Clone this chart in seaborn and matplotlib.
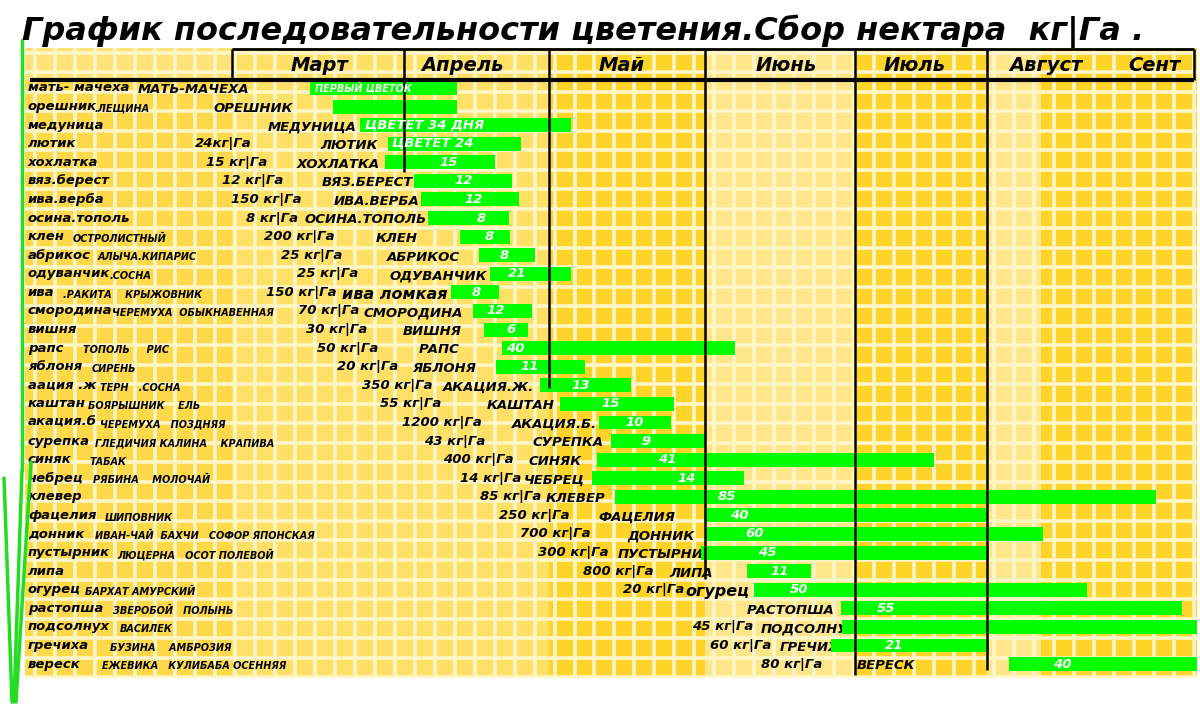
import numpy as np
import pandas as pd
import matplotlib
matplotlib.use('Agg')
import matplotlib.pyplot as plt
from matplotlib.lines import Line2D
import seaborn as sns

# x axis: days counted from 1 March, y: row index
plants = ['мать- мачеха', 'орешник', 'медуница', 'лютик', 'хохлатка', 'вяз.берест',
          'ива.верба', 'осина.тополь', 'клен', 'абрикос', 'одуванчик', 'ива',
          'смородина', 'вишня', 'рапс', 'яблоня', 'аация .ж', 'каштан', 'акация.б',
          'сурепка', 'синяк', 'чебрец', 'клевер', 'фацелия', 'донник', 'пустырник',
          'липа', 'огурец', 'растопша', 'подсолнух', 'гречиха', 'вереск']
also_flowering = ['', '.ЛЕЩИНА', '', '', '', '', '', '', 'ОСТРОЛИСТНЫЙ', 'АЛЫЧА.КИПАРИС',
                  '.СОСНА', '.РАКИТА    КРЫЖОВНИК', 'ЧЕРЕМУХА  ОБЫКНАВЕННАЯ', '',
                  'ТОПОЛЬ     РИС', 'СИРЕНЬ', 'ТЕРН   .СОСНА', 'БОЯРЫШНИК    ЕЛЬ',
                  'ЧЕРЕМУХА   ПОЗДНЯЯ', 'ГЛЕДИЧИЯ КАЛИНА    КРАПИВА', 'ТАБАК',
                  'РЯБИНА    МОЛОЧАЙ', '', 'ШИПОВНИК', 'ИВАН-ЧАЙ  БАХЧИ   СОФОР ЯПОНСКАЯ',
                  'ЛЮЦЕРНА   ОСОТ ПОЛЕВОЙ', '', 'БАРХАТ АМУРСКИЙ', 'ЗВЕРОБОЙ   ПОЛЫНЬ',
                  'ВАСИЛЕК', 'БУЗИНА    АМБРОЗИЯ', 'ЕЖЕВИКА   КУЛИБАБА ОСЕННЯЯ']
names_upper = ['МАТЬ-МАЧЕХА', 'ОРЕШНИК', 'МЕДУНИЦА', 'ЛЮТИК', 'ХОХЛАТКА', 'ВЯЗ.БЕРЕСТ',
               'ИВА.ВЕРБА', 'ОСИНА.ТОПОЛЬ', 'КЛЕН', 'АБРИКОС', 'ОДУВАНЧИК', 'ива ломкая',
               'СМОРОДИНА', 'ВИШНЯ', 'РАПС', 'ЯБЛОНЯ', 'АКАЦИЯ.Ж.', 'КАШТАН', 'АКАЦИЯ.Б.',
               'СУРЕПКА', 'СИНЯК', 'ЧЕБРЕЦ', 'КЛЕВЕР', 'ФАЦЕЛИЯ', 'ДОННИК', 'ПУСТЫРНИК',
               'ЛИПА', 'огурец', 'РАСТОПША', 'ПОДСОЛНУХ', 'ГРЕЧИХА', 'ВЕРЕСК']
yields = ['', '', '', '24кг|Га', '15 кг|Га', '12 кг|Га', '150 кг|Га', '8 кг|Га',
          '200 кг|Га', '25 кг|Га', '25 кг|Га', '150 кг|Га', '70 кг|Га', '30 кг|Га',
          '50 кг|Га', '20 кг|Га', '350 кг|Га', '55 кг|Га', '1200 кг|Га', '43 кг|Га',
          '400 кг|Га', '14 кг|Га', '85 кг|Га', '250 кг|Га', '700 кг|Га', '300 кг|Га',
          '800 кг|Га', '20 кг|Га', '', '45 кг|Га', '60 кг|Га', '80 кг|Га']
bar_start = [15.6, 20.2, 25.6, 31.2, 30.6, 36.4, 37.8, 39.2, 45.6, 49.4, 51.6, 43.8,
             48.2, 50.4, 54.0, 52.8, 61.6, 65.6, 73.6, 76.0, 73.2, 72.2, 76.8, 94.6,
             94.8, 94.0, 103.2, 104.6, 122.0, 122.2, 120.0, 155.6]
bar_end = [45.0, 45.0, 67.8, 57.8, 52.6, 56.0, 57.4, 55.4, 55.6, 60.6, 67.8, 53.4,
           60.0, 59.2, 100.8, 70.6, 80.0, 88.6, 88.0, 94.8, 140.6, 102.6, 185.0, 151.2,
           162.4, 151.6, 116.0, 171.2, 190.2, 193.6, 151.6, 193.6]
bar_text = ['ПЕРВЫЙ ЦВЕТОК', '', 'ЦВЕТЕТ 34 ДНЯ', 'ЦВЕТЕТ 24', '15', '12', '12', '8', '8',
            '8', '21', '8', '12', '6', '40', '11', '13', '15', '10', '9', '41', '14', '85',
            '40', '60', '45', '11', '50', '55', '', '21', '40']
months = ['Март', 'Апрель', 'Май', 'Июнь', 'Июль', 'Август', 'Сент']

# layout (positions)
extra_x = [0, -27.4, 0, 0, 0, 0, 0, 0, -31.8, -26.8, -24.4, -33.8, -24, 0, -29.8, -28,
           -26.4, -28.8, -26.4, -27.4, -28.4, -27.8, 0, -25.4, -27.4, -23, 0, -29.4,
           -23.8, -22.4, -24.4, -26]
yield_x = [0, 0, 0, -1.7, 0.9, 4.1, 6.9, 8.1, 13.6, 15.9, 19.1, 13.9, 19.4, 20.9, 23.2,
           27.2, 33.2, 35.9, 42, 44.6, 49.4, 51.8, 55.9, 60.5, 64.8, 68.3, 77.3, 84.4, 0,
           98.2, 101.9, 112.1]
name_right = [3.6, 12.2, 25, 29.2, 29.6, 36.2, 37.6, 39, 37.2, 45.6, 51, 43.2, 46.2, 46,
              45.6, 49, 60.6, 64.6, 73, 74.4, 70, 70.6, 74.8, 88.8, 92.6, 96.6, 96.2,
              103.6, 120.6, 125.4, 123.6, 136.8]
bar_text_x = [16.6, 0, 26.6, 32, 43.4, 46.4, 48.4, 50, 51.6, 54.6, 57.2, 49, 52.8, 55.8,
              56.8, 59.6, 69.8, 75.8, 80.6, 83, 87.2, 91, 99.2, 101.6, 104.6, 107.2, 109.6,
              113.6, 131, 0, 132.6, 166.2]
month_edges = [0, 34.4, 63.4, 94.8, 124.8, 151.2, 192.6]
month_x = [17.6, 46.2, 78, 111, 136.6, 163, 184.6]
line_bottom = [4.5, 16.15, 26.4, 31.6, 31.3]

df = pd.DataFrame({'row': np.arange(len(plants)),
                   'start': bar_start,
                   'length': np.array(bar_end) - np.array(bar_start)})

sns.set_theme(style='white')
plt.rcParams['font.family'] = ['DejaVu Sans']

fig = plt.figure(figsize=(12, 7.05), dpi=100)
ax = fig.add_axes([0.0208, 0.0383, 0.9767, 0.8936])

XMIN, XMAX = -41.4, 193.2
YTOP, YBOT = -2.15, 31.75

# yellow squared background
ax.set_facecolor('#FFD42A')
ax.axvspan(XMIN, 0, color='#FFD94A', zorder=0, lw=0)
ax.axvspan(0, 63.4, color='#FFE066', zorder=0, lw=0)
ax.axvspan(94.8, 124.8, color='#FFE68A', zorder=0, lw=0)
ax.axvspan(151.2, 162, color='#FFE68A', zorder=0, lw=0)
ax.axhspan(YTOP, -0.43, xmin=0, xmax=(0 - XMIN) / (XMAX - XMIN), color='#FFE27A', zorder=0, lw=0)
ax.vlines(np.arange(XMIN + 2, XMAX, 4), YTOP, YBOT, color='#FFF6C8', lw=2.6, zorder=1)
ax.hlines(np.arange(-1.9, YBOT, 1.05), XMIN, XMAX, color='#FFF6C8', lw=2.6, zorder=1)

# flowering periods
sns.barplot(data=df, x='length', y='row', orient='y', left=df['start'].to_numpy(),
            color='#00FF00', width=0.75, errorbar=None, linewidth=0, zorder=3,
            saturation=1, ax=ax)

# header and month lines
ax.hlines(-2.1, 0, month_edges[-1], color='black', lw=2, zorder=5, clip_on=False)
ax.hlines(-0.43, -40.4, month_edges[-1], color='black', lw=3, zorder=5)
ax.vlines([0, month_edges[-1]], -2.1, -0.43, color='black', lw=1.8, zorder=5)
ax.vlines(month_edges[1:6], -2.1, line_bottom, color='black', lw=1.8, zorder=5)
for m, mx in zip(months, month_x):
    ax.text(mx, -1.2, m, ha='center', va='center', fontsize=14, weight='bold',
            style='italic', color='black', zorder=6)

# row texts
for i in df['row']:
    ax.text(-40.8, i, plants[i], ha='left', va='center', fontsize=9.5, weight='bold',
            style='italic', color='black', zorder=2)
    if also_flowering[i]:
        ax.text(extra_x[i], i + 0.12, also_flowering[i], ha='left', va='center',
                fontsize=7, weight='bold', style='italic', color='black', zorder=2)
    if yields[i]:
        ax.text(yield_x[i], i, yields[i], ha='center', va='center', fontsize=9.5,
                weight='bold', style='italic', color='black', zorder=2)
    big = names_upper[i].islower()
    ax.text(name_right[i], i + 0.1, names_upper[i], ha='right', va='center',
            fontsize=11.5 if big else 9.5, weight='bold', style='italic',
            color='black', zorder=2)
    if bar_text[i]:
        word = not bar_text[i].isdigit()
        ax.text(bar_text_x[i], i, bar_text[i], ha='left' if word else 'center',
                va='center', fontsize=7 if i == 0 else 9.5, weight='bold',
                style='italic', color='white', zorder=6)

ax.set_xlim(XMIN, XMAX)
ax.set_ylim(YBOT, YTOP)
ax.set_xticks([])
ax.set_yticks([])
ax.set_xlabel('')
ax.set_ylabel('')
for s in ax.spines.values():
    s.set_visible(False)

fig.text(0.018, 0.956, 'График последовательности цветения.Сбор нектара  кг|Га .',
         ha='left', va='center', fontsize=23, weight='bold', style='italic', color='black')

# green grass blades at the left edge
for (x0, y0), (x1, y1) in [((22, 40), (22, 470)), ((22, 470), (14, 702)),
                           ((4, 478), (12, 702)), ((31, 462), (16, 702))]:
    fig.add_artist(Line2D([x0 / 1200, x1 / 1200], [1 - y0 / 705, 1 - y1 / 705],
                          color='#22DD22', lw=2.5))

fig.savefig('out.png', dpi=100)
